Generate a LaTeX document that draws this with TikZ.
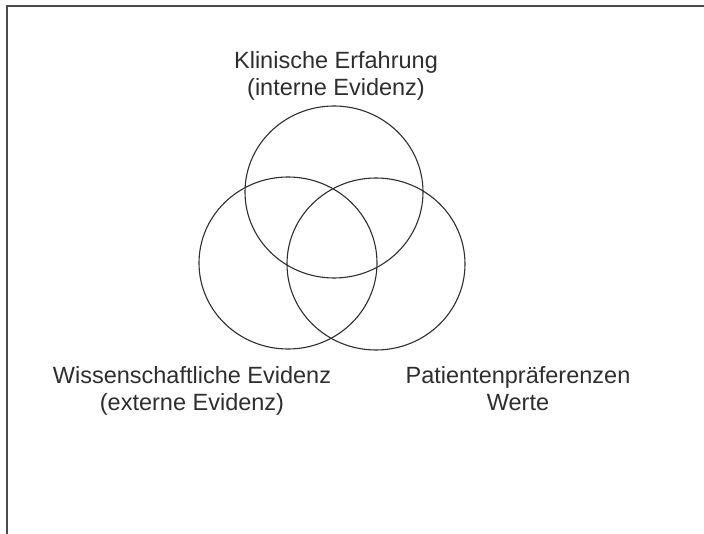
\documentclass[tikz,border=0pt]{standalone}
\usepackage{fontspec}
\setmainfont{Liberation Sans}
\usetikzlibrary{shapes.geometric}
\definecolor{ink}{HTML}{2E2E2E}
\definecolor{framecol}{HTML}{4A4A4A}
\begin{document}
\begin{tikzpicture}[x=1pt,y=-1pt,
  setcircle/.style={ellipse, draw=ink, line width=1.1pt,
    minimum width=178pt, minimum height=172pt, inner sep=0pt},
  setlabel/.style={anchor=north, align=center, inner sep=0pt, text=ink,
    font=\fontsize{23.5}{27.5}\selectfont}]
  \useasboundingbox (0,0) rectangle (704,534);
  % outer frame, running off the right and bottom edges
  \coordinate (fbl) at (6.5,534);
  \coordinate (ftl) at (6.5,6);
  \coordinate (ftr) at (704,6);
  \draw[framecol, line width=2pt] (fbl) -- (ftl) -- (ftr);
  % the three overlapping sets
  \node[setcircle] (klinik) at (334,192) {};
  \node[setcircle] (wissen) at (288,263) {};
  \node[setcircle] (patient) at (376,264) {};
  % set labels
  \node[setlabel] (lklinik) at (336,51) {Klinische Erfahrung\\(interne Evidenz)};
  \node[setlabel] (lwissen) at (192,366) {Wissenschaftliche Evidenz\\(externe Evidenz)};
  \node[setlabel] (lpatient) at (518,366) {Patientenpräferenzen\\Werte};
\end{tikzpicture}
\end{document}
